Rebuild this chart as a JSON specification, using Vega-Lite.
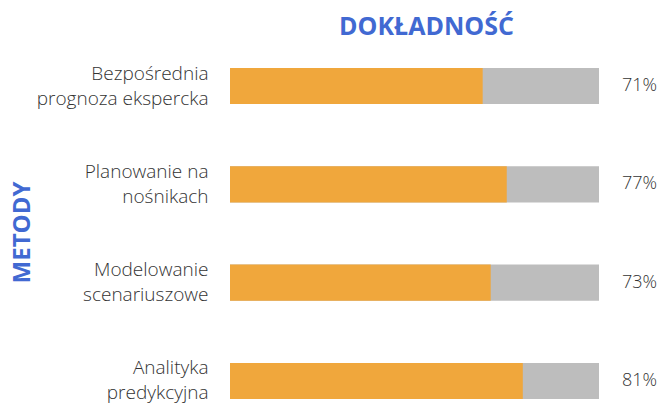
{
  "$schema": "https://vega.github.io/schema/vega-lite/v6.json",
  "width": 369,
  "height": 331,
  "autosize": "none",
  "padding": {"left": 230, "top": 68, "right": 66, "bottom": 5},
  "background": "white",
  "config": {"view": {"stroke": null}, "font": "Open Sans"},
  "title": {
    "text": "DOKŁADNOŚĆ",
    "fontSize": 25,
    "fontWeight": "bold",
    "color": "#4169D2",
    "baseline": "alphabetic",
    "offset": 4,
    "dx": 12
  },
  "data": {
    "values": [
      {"metoda": "Bezpośrednia\nprognoza ekspercka", "dokladnosc": 71, "etykieta": "71%"},
      {"metoda": "Planowanie na\nnośnikach", "dokladnosc": 77, "etykieta": "77%"},
      {"metoda": "Modelowanie\nscenariuszowe", "dokladnosc": 73, "etykieta": "73%"},
      {"metoda": "Analityka\npredykcyjna", "dokladnosc": 81, "etykieta": "81%"}
    ]
  },
  "encoding": {
    "y": {
      "field": "metoda",
      "type": "nominal",
      "sort": null,
      "scale": {"paddingInner": 0.633, "paddingOuter": 0},
      "axis": {
        "title": "METODY",
        "titleFontSize": 24,
        "titleFontWeight": "bold",
        "titleColor": "#4169D2",
        "titleX": -196,
        "titleY": 164,
        "titleAlign": "center",
        "titleBaseline": "bottom",
        "labelExpr": "split(datum.label, '\\n')",
        "labelLineHeight": 25,
        "labelOffset": -12.5,
        "labelFontSize": 19,
        "labelFontWeight": 300,
        "labelColor": "#333333",
        "labelPadding": 22,
        "labelLimit": 300,
        "ticks": false,
        "domain": false,
        "grid": false
      }
    }
  },
  "layer": [
    {
      "mark": {"type": "bar", "color": "#BDBDBD", "clip": false},
      "encoding": {
        "x": {"datum": 100, "type": "quantitative", "scale": {"domain": [8, 100], "clamp": true, "zero": false, "nice": false}, "axis": null}
      }
    },
    {
      "mark": {"type": "bar", "color": "#F0A73C"},
      "encoding": {
        "x": {"field": "dokladnosc", "type": "quantitative"}
      }
    },
    {
      "mark": {"type": "text", "align": "left", "dx": 23, "fontSize": 18, "fontWeight": 300, "color": "#333333"},
      "encoding": {
        "x": {"datum": 100, "type": "quantitative"},
        "text": {"field": "etykieta"}
      }
    }
  ]
}
